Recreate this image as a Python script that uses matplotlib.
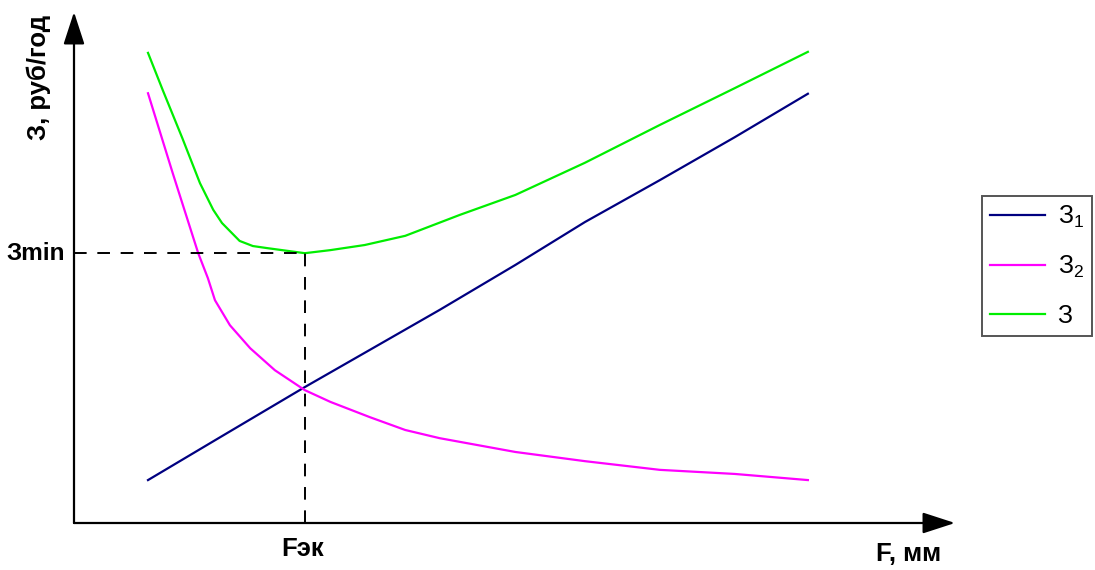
#!/usr/bin/env python3
# Cost curves vs. cross-section: З1, З2 and their sum З with the optimum Fэк.

import matplotlib
matplotlib.use("Agg")
import matplotlib.pyplot as plt

plt.rcParams.update({
    "font.family": ["Liberation Sans", "DejaVu Sans"],
    "mathtext.fontset": "custom",
    "mathtext.rm": "Liberation Sans",
})

COLORS = {
    "z1": "#000080",
    "z2": "#ff00ff",
    "z": "#00ee00",
}

# curve З1 (linear part)
z1_x = [8.4, 16.6, 26.2, 33.6, 41.5, 50.1, 58.0, 66.5, 75.0, 83.3]
z1_y = [8.4, 16.8, 26.6, 33.9, 41.7, 50.5, 58.9, 67.1, 75.5, 84.0]

# curve З2 (falling part)
z2_x = [8.4, 11.2, 14.1, 15.2, 16.0, 17.7, 20.0, 22.8, 26.2, 29.1,
        33.6, 37.6, 41.5, 50.1, 58.0, 66.5, 75.0, 83.3]
z2_y = [84.1, 68.5, 52.8, 47.9, 43.6, 38.7, 34.2, 29.9, 26.0, 23.7,
        20.7, 18.2, 16.6, 13.9, 12.1, 10.4, 9.6, 8.4]

# total З = З1 + З2
z_x = [8.4, 10.1, 12.3, 14.3, 15.8, 16.8, 18.8, 20.3, 21.9, 26.2,
       29.1, 33.0, 37.6, 43.8, 50.1, 58.0, 66.5, 75.0, 83.3]
z_y = [92.0, 84.6, 75.3, 66.5, 61.3, 58.7, 55.2, 54.2, 53.8, 52.8,
       53.4, 54.4, 56.2, 60.3, 64.2, 70.5, 77.9, 85.1, 92.2]

f_opt = 26.2
z_min = 52.8

W, H = 1095, 570
fig = plt.figure(figsize=(W / 100, H / 100), dpi=100)
ax = fig.add_axes([74 / W, 47 / H, (955 - 74) / W, (523 - 12) / H])
ax.set_xlim(0, 100)
ax.set_ylim(0, 100)
ax.axis("off")

l1, = ax.plot(z1_x, z1_y, color=COLORS["z1"], lw=1.6, label="З$_1$")
l2, = ax.plot(z2_x, z2_y, color=COLORS["z2"], lw=1.6, label="З$_2$")
l3, = ax.plot(z_x, z_y, color=COLORS["z"], lw=1.6, label="З")

ax.plot([0, f_opt], [z_min, z_min], color="black", lw=1.4,
        dashes=(6.5, 5.5), clip_on=False)
ax.plot([f_opt, f_opt], [0, z_min], color="black", lw=1.4,
        dashes=(6.5, 5.5), clip_on=False)

arrow = dict(arrowstyle="-|>,head_length=2.0,head_width=0.65",
             mutation_scale=10, lw=1.6, color="black", shrinkA=0, shrinkB=0)
ax.annotate("", xy=(1, 0), xytext=(0, 0), xycoords="axes fraction",
            arrowprops=arrow)
ax.annotate("", xy=(0, 1), xytext=(0, 0), xycoords="axes fraction",
            arrowprops=arrow)

ax.text(-4.0, 87.1, "З, руб/год", rotation=90, ha="center", va="center",
        fontsize=18.5, fontweight="bold")
ax.text(94.7, -6.0, "F, мм", ha="center", va="center",
        fontsize=18.5, fontweight="bold")
ax.text(-1.0, z_min, "Зmin", ha="right", va="center",
        fontsize=17.5, fontweight="bold")
ax.text(f_opt - 0.3, -5.0, "Fэк", ha="center", va="center",
        fontsize=18.5, fontweight="bold")

leg = fig.legend(handles=[l1, l2, l3], loc="center left",
                 bbox_to_anchor=(982 / W, 1 - 266 / H),
                 bbox_transform=fig.transFigure, borderaxespad=0,
                 fontsize=18, handlelength=2.2, handletextpad=0.5,
                 labelspacing=0.95, borderpad=0.32, fancybox=False,
                 framealpha=1, edgecolor="#555555")
leg.get_frame().set_linewidth(1.4)

fig.savefig("out.png", dpi=100)
